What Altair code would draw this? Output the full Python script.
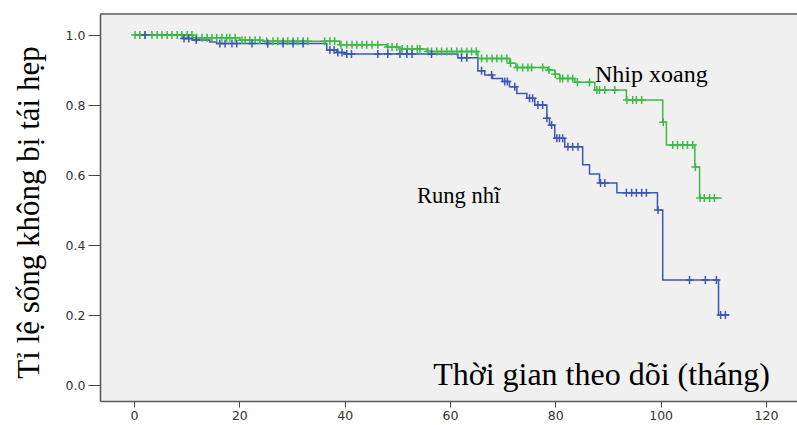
import altair as alt
import pandas as pd

# Kaplan-Meier step curves (time in months, survival proportion)
green_t = [0, 11.2, 20.1, 24.5, 39.1, 48.0, 50.5, 55.6, 65.3, 71.3, 72.5, 78.6, 79.9,
           80.8, 83.7, 87.5, 93.5, 100.4, 101.1, 106.5, 107.4, 111.6]
green_s = [1.0, 0.992, 0.985, 0.982, 0.972, 0.966, 0.96, 0.953, 0.933, 0.919, 0.907, 0.9,
           0.888, 0.876, 0.865, 0.843, 0.814, 0.751, 0.686, 0.623, 0.534, 0.534]

blue_t = [0, 9.3, 11.0, 14.4, 15.7, 36.6, 38.5, 40.0, 61.5, 65.3, 66.6, 68.1, 70.0, 71.3,
          72.7, 74.6, 76.1, 78.4, 78.9, 79.9, 81.8, 85.2, 86.5, 88.4, 91.7, 99.4, 100.4,
          111.0, 113.0]
blue_s = [1.0, 0.99, 0.986, 0.98, 0.976, 0.957, 0.95, 0.946, 0.935, 0.898, 0.886, 0.876,
          0.867, 0.852, 0.833, 0.819, 0.8, 0.762, 0.743, 0.705, 0.681, 0.629, 0.603, 0.577,
          0.549, 0.5, 0.3, 0.2, 0.2]

# censored observation times
green_c = [0.2, 1.1, 2.1, 3.4, 4.4, 5.3, 6.3, 7.2, 8.2, 9.1, 10.1, 11.0, 11.9, 12.9, 13.9,
           14.8, 15.7, 16.7, 17.6, 18.2, 19.2, 20.5, 21.1, 22.0, 23.0, 23.9, 25.2, 26.4,
           27.3, 28.3, 29.2, 30.2, 31.1, 32.1, 33.0, 36.2, 37.2, 38.1, 39.3, 40.4, 41.4,
           42.3, 43.3, 44.2, 45.2, 46.3, 48.2, 49.0, 49.9, 50.9, 51.9, 52.8, 53.8, 54.3,
           55.8, 56.5, 57.5, 58.4, 59.4, 60.3, 61.3, 62.2, 63.2, 64.1, 65.0, 66.0, 67.0,
           68.0, 68.9, 69.8, 70.8, 71.5, 72.8, 73.8, 74.8, 75.5, 77.6, 78.8, 80.0, 80.9,
           81.4, 82.4, 83.3, 84.2, 86.5, 87.9, 88.4, 89.4, 91.3, 93.6, 94.7, 95.4, 96.4,
           100.5, 102.3, 103.2, 104.2, 105.1, 106.1, 106.6, 107.5, 108.3, 109.3, 110.2]
blue_c = [2.1, 9.5, 10.4, 11.8, 16.3, 17.3, 18.6, 19.5, 22.4, 25.4, 28.3, 30.2, 32.1, 37.2,
          38.0, 38.7, 39.5, 40.4, 41.3, 46.3, 48.2, 50.5, 51.8, 52.8, 56.5, 62.2, 63.2,
          66.0, 67.9, 70.4, 70.9, 72.3, 75.1, 75.7, 76.7, 77.6, 78.4, 79.3, 80.3, 80.8,
          81.4, 82.4, 83.3, 84.3, 88.6, 89.4, 93.5, 94.5, 95.4, 96.4, 97.3, 99.5, 105.5,
          108.5, 110.6, 111.4, 112.3]

groups = ["Nhip xoang", "Rung nhĩ"]
colors = ["#3cba46", "#3d57b0"]

x_ticks = [0, 20, 40, 60, 80, 100, 120]
y_ticks = [0.0, 0.2, 0.4, 0.6, 0.8, 1.0]


def level(ts, ss, t):
    v = ss[0]
    for tt, s in zip(ts, ss):
        if tt <= t:
            v = s
    return v


steps = pd.concat([
    pd.DataFrame({"t": green_t, "s": green_s, "g": groups[0]}),
    pd.DataFrame({"t": blue_t, "s": blue_s, "g": groups[1]}),
])
cens = pd.concat([
    pd.DataFrame({"t": green_c, "s": [level(green_t, green_s, c) for c in green_c], "g": groups[0]}),
    pd.DataFrame({"t": blue_c, "s": [level(blue_t, blue_s, c) for c in blue_c], "g": groups[1]}),
])

xs = alt.Scale(domain=[-6.46, 125.9], nice=False, zero=False)
ys = alt.Scale(domain=[-0.0457, 1.06], nice=False, zero=False)
cs = alt.Scale(domain=groups, range=colors)

xaxis = alt.Axis(values=x_ticks, title=None, grid=False, labelFont="DejaVu Sans",
                 labelFontSize=12.5, labelColor="#333333", tickColor="#444444", tickSize=6,
                 labelPadding=2, domainColor="#5a5a5a", domainWidth=1.6)
yaxis = alt.Axis(values=y_ticks, format=".1f", title="Tỉ lệ sống không bị tái hẹp", grid=False,
                 labelFont="DejaVu Sans", labelFontSize=12.5, labelColor="#333333",
                 tickColor="#444444", tickSize=12, labelPadding=3, domainColor="#5a5a5a",
                 domainWidth=1.6, titleFont="Liberation Serif", titleFontSize=31,
                 titleFontWeight="normal", titleColor="black", titleX=-62, titleY=198,
                 titleAlign="center", titleBaseline="alphabetic", titleAngle=270)

lines = alt.Chart(steps).mark_line(interpolate="step-after", strokeWidth=1.5).encode(
    x=alt.X("t:Q", scale=xs, axis=xaxis),
    y=alt.Y("s:Q", scale=ys, axis=yaxis),
    color=alt.Color("g:N", scale=cs, legend=None),
    detail="g:N",
)
marks = alt.Chart(cens).mark_point(shape="M-1,0L1,0M0,-1L0,1", filled=False, size=64,
                                   strokeWidth=1.5, opacity=1).encode(
    x=alt.X("t:Q", scale=xs),
    y=alt.Y("s:Q", scale=ys),
    color=alt.Color("g:N", scale=cs, legend=None),
)

top_border = alt.Chart(pd.DataFrame({"a": [0]})).mark_rule(color="#5a5a5a", strokeWidth=1.6).encode(
    x=alt.value(0), x2=alt.value(697), y=alt.value(0))

def label(txt, x, y, size, align="left"):
    return alt.Chart(pd.DataFrame({"txt": [txt]})).mark_text(
        font="Liberation Serif", fontSize=size, align=align, baseline="alphabetic", color="black"
    ).encode(text="txt:N", x=alt.value(x), y=alt.value(y))

chart = alt.layer(
    lines, marks, top_border,
    label("Nhip xoang", 495, 68, 24),
    label("Rung nhĩ", 317, 189, 22.5),
    label("Thời gian theo dõi (tháng)", 670, 371, 32, align="right"),
).properties(
    width=697, height=387, autosize="none",
    padding={"left": 100, "top": 14, "right": 0, "bottom": 24},
    background="white",
).configure_view(fill="#f0f0f0", stroke=None)

chart.save("out.html", embed_options={"renderer": "svg", "actions": False})
